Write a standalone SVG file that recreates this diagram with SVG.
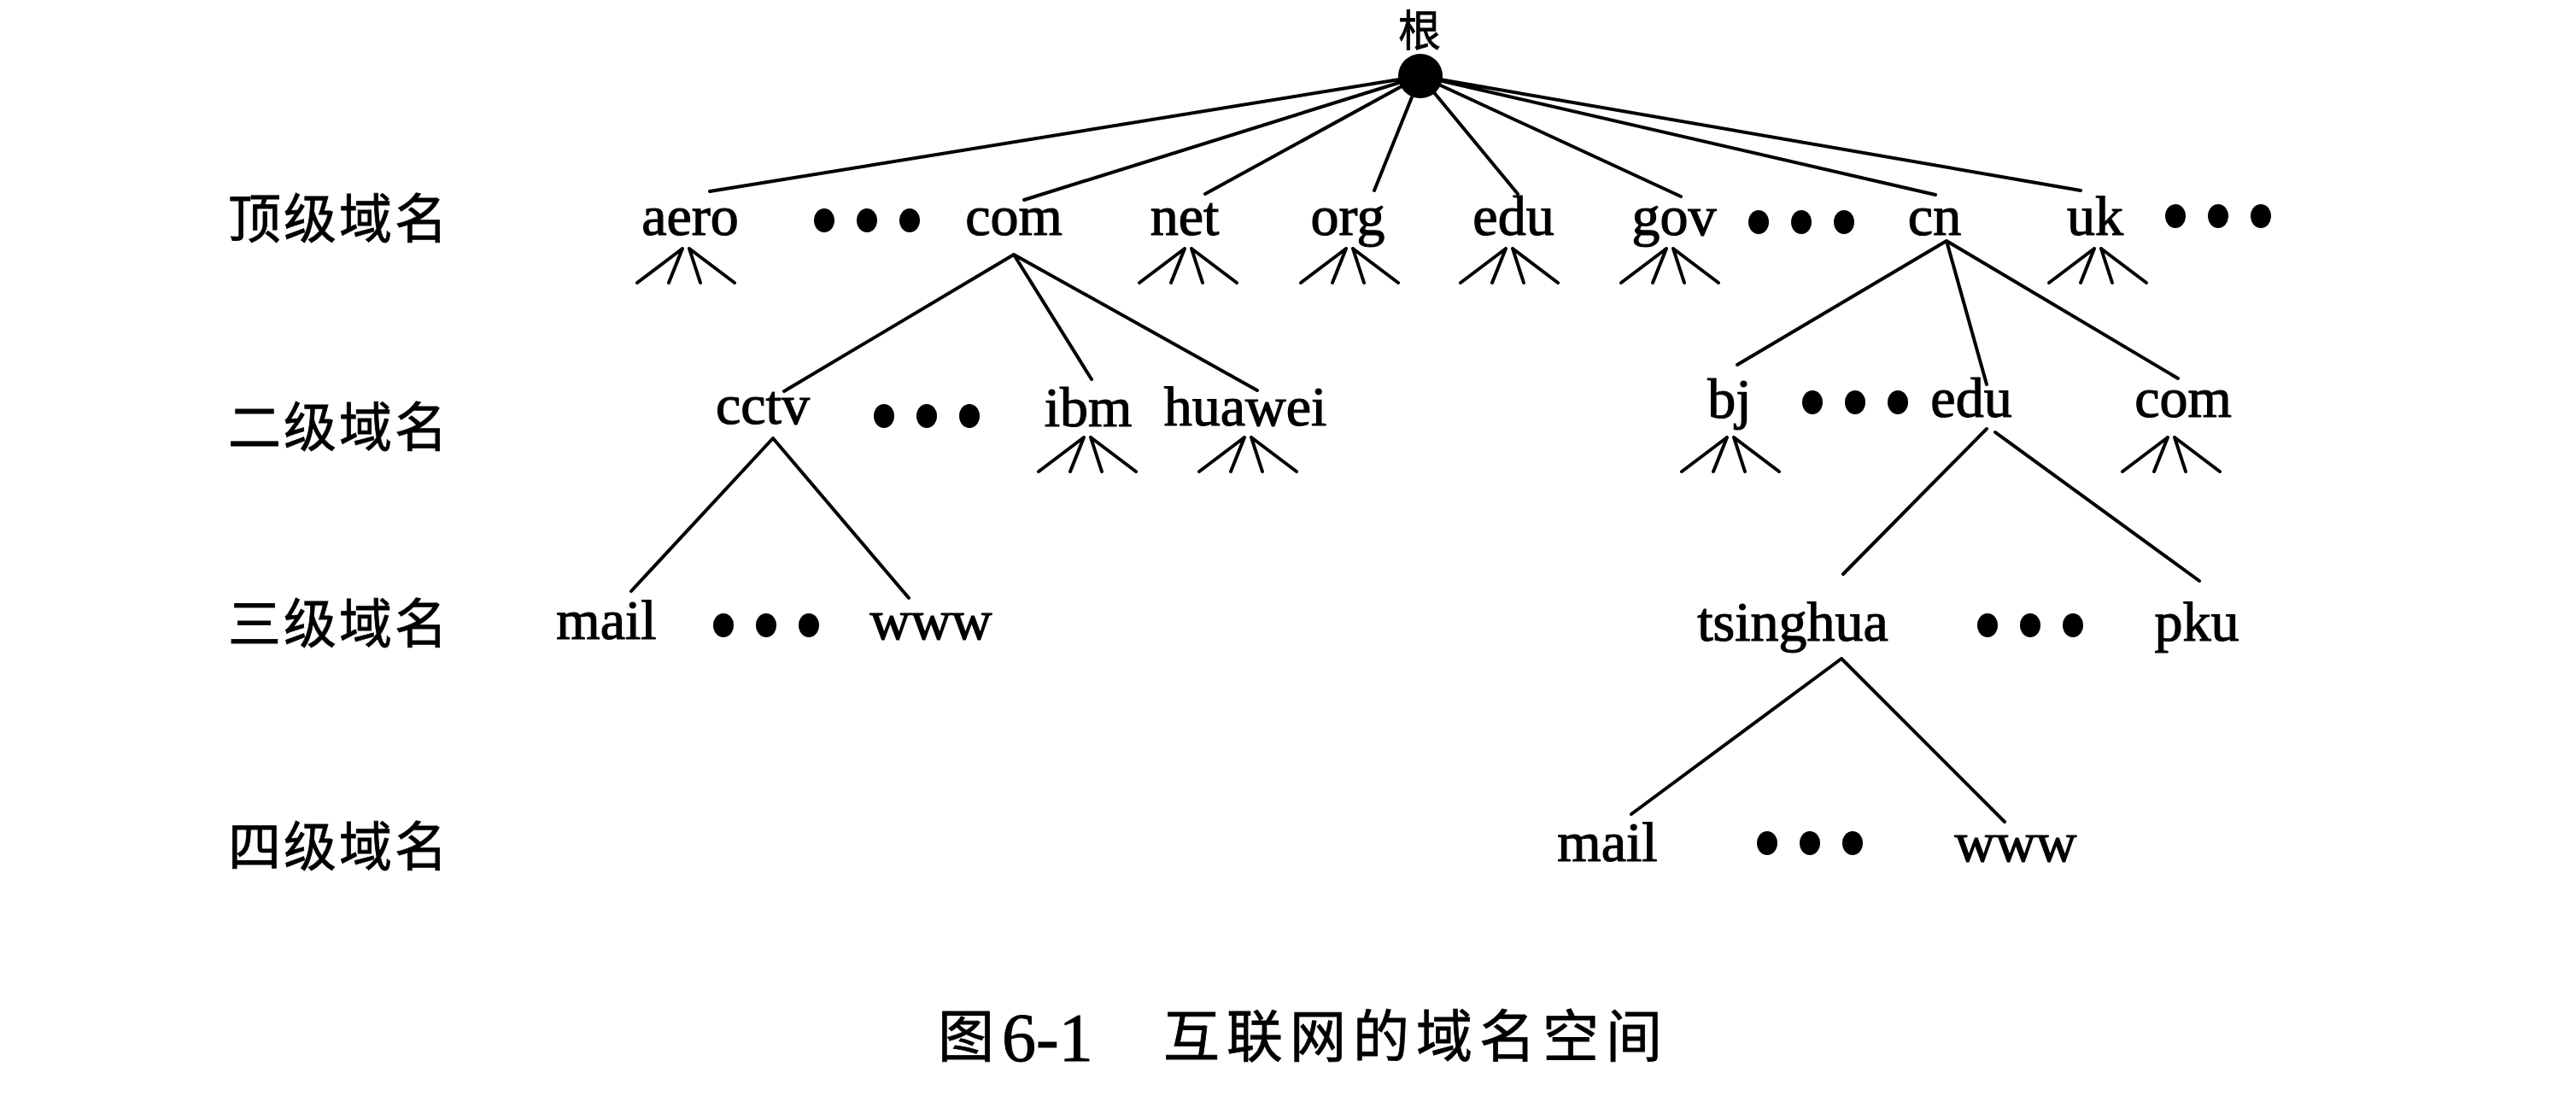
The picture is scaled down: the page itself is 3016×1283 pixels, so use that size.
<svg xmlns="http://www.w3.org/2000/svg" width="3016" height="1283" viewBox="0 0 3016 1283">
<defs>
<style>
.t{font-family:"Liberation Serif","Times New Roman",serif;font-size:66px;fill:#000;stroke:#000;stroke-width:1.2px;text-anchor:middle}
.zh{font-family:"Noto Sans CJK SC",sans-serif;font-size:62px;fill:#000;stroke:#000;stroke-width:0.8px;letter-spacing:3px}
.cap{font-family:"Noto Sans CJK SC",sans-serif;font-size:66px;fill:#000;stroke:#000;stroke-width:0.8px}
.capn{font-family:"Liberation Serif","Times New Roman",serif;font-size:80px;fill:#000;stroke:#000;stroke-width:1px}
.ln{stroke:#000;stroke-width:4;fill:none;stroke-linecap:round}
.d{fill:#000}
</style>
<g id="fan"><path class="ln" d="M-4 0L-57 40M-4 0L-20 40M4 0L17 40M4 0L57 40"/></g>
<g id="dots"><ellipse class="d" cx="0" cy="0" rx="12" ry="14"/><ellipse class="d" cx="50" cy="0" rx="12" ry="14"/><ellipse class="d" cx="100" cy="0" rx="12" ry="14"/></g>
</defs>
<rect width="3016" height="1283" fill="#fff"/>

<g id="levels">
<text class="zh" x="267" y="279">顶级域名</text>
<text class="zh" x="267" y="523">二级域名</text>
<text class="zh" x="267" y="753">三级域名</text>
<text class="zh" x="267" y="1014">四级域名</text>
</g>

<g id="connectors">
<path class="ln" d="M1663 89L831 224M1663 89L1199 234M1663 89L1411 227M1663 89L1609 223M1663 89L1777 227M1663 89L1968 230M1663 89L2266 228M1663 89L2436 223"/>
<path class="ln" d="M1187 298L918 458M1187 298L1278 444M1187 298L1472 457"/>
<path class="ln" d="M2279 282L2034 427M2279 282L2326 450M2279 282L2550 443"/>
<path class="ln" d="M2326 502L2158 672M2336 506L2575 680"/>
<path class="ln" d="M905 513L739 692M905 513L1064 700"/>
<path class="ln" d="M2156 771L1910 953M2156 771L2347 962"/>
<use href="#fan" x="803" y="291"/>
<use href="#fan" x="1391" y="291"/>
<use href="#fan" x="1580" y="291"/>
<use href="#fan" x="1767" y="291"/>
<use href="#fan" x="1955" y="291"/>
<use href="#fan" x="2456" y="291"/>
<use href="#fan" x="1273" y="512"/>
<use href="#fan" x="1461" y="512"/>
<use href="#fan" x="2026" y="512"/>
<use href="#fan" x="2542" y="512"/>
</g>

<g id="root">
<text class="cap" x="1662" y="54" text-anchor="middle" style="font-size:50px">根</text>
<circle cx="1663" cy="89" r="26" fill="#000"/>
</g>

<g id="n-aero"><text class="t" x="808" y="275">aero</text></g>
<g id="e1"><use href="#dots" x="965" y="258"/></g>
<g id="n-com"><text class="t" x="1187" y="275">com</text></g>
<g id="n-net"><text class="t" x="1387" y="275">net</text></g>
<g id="n-org"><text class="t" x="1578" y="275">org</text></g>
<g id="n-edu"><text class="t" x="1772" y="275">edu</text></g>
<g id="n-gov"><text class="t" x="1960" y="275">gov</text></g>
<g id="e2"><use href="#dots" x="2059" y="260"/></g>
<g id="n-cn"><text class="t" x="2265" y="275">cn</text></g>
<g id="n-uk"><text class="t" x="2453" y="275">uk</text></g>
<g id="e3"><use href="#dots" x="2547" y="253"/></g>

<g id="n-cctv"><text class="t" x="893" y="496">cctv</text></g>
<g id="e4"><use href="#dots" x="1035" y="487"/></g>
<g id="n-ibm"><text class="t" x="1274" y="499">ibm</text></g>
<g id="n-huawei"><text class="t" x="1458" y="498">huawei</text></g>
<g id="n-bj"><text class="t" x="2025" y="489">bj</text></g>
<g id="e5"><use href="#dots" x="2122" y="471"/></g>
<g id="n-edu2"><text class="t" x="2308" y="488">edu</text></g>
<g id="n-com2"><text class="t" x="2556" y="488">com</text></g>

<g id="n-mail3"><text class="t" x="710" y="748">mail</text></g>
<g id="e6"><use href="#dots" x="847" y="732"/></g>
<g id="n-www3"><text class="t" x="1090" y="748">www</text></g>
<g id="n-tsinghua"><text class="t" x="2099" y="750">tsinghua</text></g>
<g id="e7"><use href="#dots" x="2327" y="732"/></g>
<g id="n-pku"><text class="t" x="2572" y="750">pku</text></g>

<g id="n-mail4"><text class="t" x="1882" y="1008">mail</text></g>
<g id="e8"><use href="#dots" x="2069" y="987"/></g>
<g id="n-www4"><text class="t" x="2360" y="1008">www</text></g>

<g id="caption">
<text class="cap" x="1098" y="1237">图</text>
<text class="capn" x="1173" y="1242">6-1</text>
<text class="cap" x="1362" y="1237" style="letter-spacing:8px">互联网的域名空间</text>
</g>
</svg>
